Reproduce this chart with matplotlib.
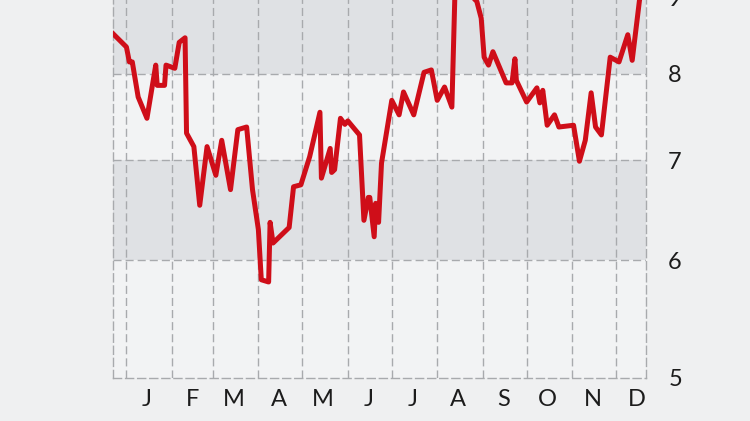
import matplotlib
matplotlib.use("Agg")
import matplotlib.pyplot as plt
import matplotlib.dates as mdates
from matplotlib.ticker import NullLocator, FixedLocator
import pandas as pd

# ---- data ----
dates = [
    "2018-12-22", "2019-01-01", "2019-01-03", "2019-01-05", "2019-01-09", "2019-01-15",
    "2019-01-21", "2019-01-22", "2019-01-27", "2019-01-28", "2019-02-03", "2019-02-06",
    "2019-02-10", "2019-02-11", "2019-02-16", "2019-02-20", "2019-02-25", "2019-03-03",
    "2019-03-07", "2019-03-13", "2019-03-18", "2019-03-24", "2019-03-28", "2019-04-01",
    "2019-04-03", "2019-04-08", "2019-04-09", "2019-04-11", "2019-04-22", "2019-04-25",
    "2019-04-30", "2019-05-06", "2019-05-13", "2019-05-14", "2019-05-20", "2019-05-21",
    "2019-05-23", "2019-05-27", "2019-05-30", "2019-06-01", "2019-06-09", "2019-06-12",
    "2019-06-15", "2019-06-16", "2019-06-19", "2019-06-20", "2019-06-22", "2019-06-24",
    "2019-07-01", "2019-07-06", "2019-07-09", "2019-07-16", "2019-07-23", "2019-07-28",
    "2019-08-01", "2019-08-06", "2019-08-11", "2019-08-13", "2019-08-18", "2019-08-23",
    "2019-08-28", "2019-08-31", "2019-09-02", "2019-09-05", "2019-09-08", "2019-09-17",
    "2019-09-21", "2019-09-23", "2019-09-24", "2019-10-01", "2019-10-08", "2019-10-10",
    "2019-10-12", "2019-10-15", "2019-10-20", "2019-10-23", "2019-11-02", "2019-11-06",
    "2019-11-10", "2019-11-14", "2019-11-17", "2019-11-21", "2019-11-27", "2019-12-03",
    "2019-12-09", "2019-12-12", "2019-12-17", "2019-12-19",
]
values = [
    8.53, 8.34, 8.15, 8.15, 7.72, 7.47,
    8.11, 7.86, 7.86, 8.11, 8.07, 8.40,
    8.46, 7.30, 7.15, 6.53, 7.15, 6.84,
    7.22, 6.69, 7.34, 7.37, 6.69, 6.29,
    5.82, 5.80, 6.36, 6.16, 6.31, 6.72,
    6.74, 7.04, 7.54, 6.81, 7.13, 6.87,
    6.90, 7.47, 7.40, 7.44, 7.28, 6.38,
    6.61, 6.61, 6.22, 6.55, 6.36, 6.97,
    7.68, 7.51, 7.78, 7.51, 8.02, 8.05,
    7.68, 7.84, 7.60, 9.00, 9.12, 9.05,
    8.95, 8.72, 8.21, 8.11, 8.28, 7.89,
    7.89, 8.19, 7.92, 7.66, 7.83, 7.65,
    7.80, 7.39, 7.51, 7.37, 7.39, 6.99,
    7.22, 7.77, 7.37, 7.28, 8.21, 8.15,
    8.50, 8.17, 8.97, 9.10,
]
month_labels = ["J", "F", "M", "A", "M", "J", "J", "A", "S", "O", "N", "D"]
y_ticks = [5, 6, 7, 8, 9]
y_labels = ["5", "6", "7", "8", "9"]
dark_bands = [(6, 7), (8, 9)]

# ---- style ----
BG = "#eff0f1"
LIGHT = "#f2f3f4"
DARK = "#dfe1e4"
GRID = "#a8aaad"
RED = "#cf0e19"
TXT = "#1c1c1c"
DASH = (0, (5.8, 2.9))
FONT = ["Lato", "DejaVu Sans"]

x = pd.to_datetime(dates)

fig = plt.figure(figsize=(7.5, 4.21), dpi=100, facecolor=BG)
ax = fig.add_axes([112.5 / 750, 43 / 421, 533.5 / 750, 422 / 421])
ax.set_facecolor(LIGHT)
ax.set_yscale("log")
ax.set_ylim(5, 9.6)
ax.set_xlim(pd.Timestamp("2018-12-22 12:00"), pd.Timestamp("2019-12-21 10:00"))

for lo, hi in dark_bands:
    ax.axhspan(lo, hi, color=DARK, lw=0, zorder=0)

for v in y_ticks[1:]:
    ax.axhline(v, color=GRID, lw=1.0, ls=DASH, zorder=1)
month_starts = pd.date_range("2019-01-01", "2019-12-01", freq="MS")
for m in month_starts:
    ax.axvline(m, color=GRID, lw=1.0, ls=DASH, zorder=1)

ax.plot(x, values, color=RED, lw=3.6, solid_joinstyle="round",
        solid_capstyle="round", zorder=3)

for side in ["left", "right", "bottom"]:
    ax.spines[side].set_color(GRID)
    ax.spines[side].set_linewidth(1.0)
    ax.spines[side].set_linestyle(DASH)
ax.spines["top"].set_visible(False)

# y ticks on right
ax.yaxis.set_minor_locator(NullLocator())
ax.yaxis.set_major_locator(FixedLocator(y_ticks))
ax.set_yticklabels(y_labels)
ax.yaxis.tick_right()
ax.tick_params(axis="y", length=0, pad=16, labelsize=17, labelcolor=TXT)
for t in ax.get_yticklabels():
    t.set_fontfamily(FONT)

# month labels centered mid-month
mids = month_starts + pd.Timedelta(days=14)
ax.set_xticks(mids)
ax.set_xticklabels(month_labels)
ax.xaxis.set_minor_locator(NullLocator())
ax.tick_params(axis="x", length=0, pad=8, labelsize=17, labelcolor=TXT)
for t in ax.get_xticklabels():
    t.set_fontfamily(FONT)

fig.savefig("out.png", dpi=100, facecolor=BG)
